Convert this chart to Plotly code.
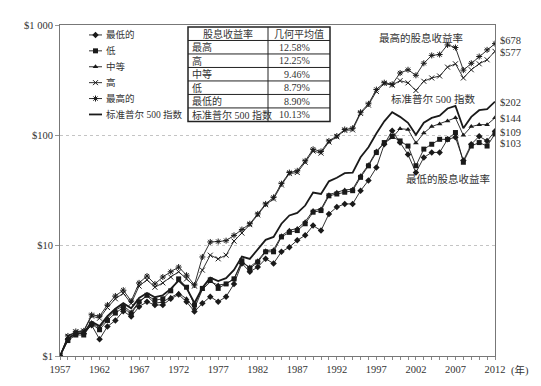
import plotly.graph_objects as go

# ---------------- data ----------------
years = list(range(1957, 2013))

sp500 = [1, 1.43, 1.61, 1.61, 2.05, 1.87, 2.30, 2.68, 3.01, 2.71,
         3.36, 3.73, 3.41, 3.55, 4.06, 4.83, 4.12, 3.03, 4.15, 5.14,
         4.77, 5.08, 6.02, 7.97, 7.58, 9.20, 11.3, 12.0, 15.8, 18.8,
         19.8, 23.1, 30.3, 29.4, 38.3, 41.3, 45.4, 46.0, 63.3, 77.9,
         104, 134, 162, 147, 130, 101, 130, 144, 151, 175,
         185, 116, 147, 169, 173, 202]

highest = [1, 1.52, 1.67, 1.69, 2.36, 2.30, 2.90, 3.50, 3.95, 3.15,
           4.6, 5.3, 4.5, 5.2, 5.8, 6.4, 5.4, 4.4, 7.9, 10.8,
           10.9, 11.1, 12.4, 14.0, 15.8, 19.4, 23.9, 27.4, 36.5, 46,
           47.7, 58.7, 74.8, 71.5, 88.9, 98.6, 113, 116, 162, 193,
           260, 300, 290, 367, 393, 350, 450, 530, 540, 660,
           625, 390, 450, 518, 595, 678]

high = [1, 1.50, 1.65, 1.68, 2.30, 2.20, 2.75, 3.30, 3.70, 3.00,
        4.3, 4.9, 4.2, 4.6, 5.2, 5.8, 5.0, 4.3, 6.0, 8.2,
        7.6, 8.2, 11.0, 13.0, 15.5, 19.0, 23.5, 26.5, 35.5, 45,
        46, 57, 72, 69, 87, 97, 111, 112, 158, 188,
        250, 295, 285, 313, 299, 255, 309, 331, 345, 415,
        445, 331, 393, 445, 484, 577]

medium = [1, 1.45, 1.60, 1.60, 2.00, 1.80, 2.20, 2.60, 2.85, 2.50,
          3.1, 3.5, 3.0, 3.1, 3.4, 3.7, 3.3, 2.7, 4.0, 4.7,
          4.4, 4.5, 5.0, 7.0, 6.4, 7.3, 9.0, 9.2, 12.3, 13.8,
          14.3, 16.5, 20.8, 21.5, 29, 30.5, 32, 32.5, 43, 54,
          72, 85, 95, 115, 113, 85, 105, 120, 127, 135,
          144, 100, 120, 125, 125, 144]

low = [1, 1.38, 1.55, 1.55, 1.95, 1.73, 2.10, 2.45, 2.75, 2.40,
       3.1, 3.55, 3.2, 3.3, 3.9, 5.0, 4.2, 2.9, 4.1, 4.9,
       4.1, 4.5, 5.0, 7.3, 6.2, 7.1, 8.8, 8.8, 12.0, 13.2,
       13.7, 15.8, 20.1, 20.8, 28.3, 29.4, 30.5, 31.5, 41.6, 52.9,
       69.8, 86, 98, 89, 80, 53, 75, 83, 92, 92,
       106, 57, 80, 86, 80, 103]

lowest = [1, 1.42, 1.60, 1.60, 1.90, 1.42, 1.85, 2.10, 2.55, 2.28,
          2.8, 3.1, 2.9, 2.9, 3.3, 3.6, 3.1, 2.53, 3.0, 3.45,
          3.1, 3.45, 4.5, 6.9, 5.8, 6.4, 7.6, 6.9, 8.8, 9.7,
          11.2, 12.4, 15.2, 13.7, 19.4, 22.4, 23.9, 23.9, 31.5, 39,
          51, 83, 110, 86, 67, 46, 63, 70, 70, 92,
          96, 59, 83, 98, 89, 109]

series_names = ["最低的", "低", "中等", "高", "最高的", "标准普尔 500 指数"]
table_header = ["股息收益率", "几何平均值"]
table_rows = ["最高", "高", "中等", "低", "最低的", "标准普尔 500 指数"]
table_vals = ["12.58%", "12.25%", "9.46%", "8.79%", "8.90%", "10.13%"]
end_labels = ["$678", "$577", "$202", "$144", "$109", "$103"]
x_tick_years = list(range(1957, 2013, 5))
y_tick_vals = [1, 10, 100, 1000]
y_tick_text = ["$1", "$10", "$100", "$1 000"]

# ---------------- layout helpers (pixel -> paper) ----------------
W, H = 541, 386
L, R, T, B = 52, 487, 15, 348


def px(x):
    return (x - L) / (R - L)


def py(y):
    return (B - y) / (B - T)


FONT = "Liberation Serif, Noto Sans CJK SC, serif"
INK = "#1a1a1a"
TXT = "#333"

fig = go.Figure()

marker_styles = [
    dict(symbol="diamond", size=5, color=INK),
    dict(symbol="square", size=5, color=INK),
    dict(symbol="triangle-up", size=5, color=INK),
    dict(symbol="x-thin-open", size=5, color=INK, line=dict(width=1, color=INK)),
    dict(symbol="asterisk-open", size=5, color=INK, line=dict(width=1, color=INK)),
]
quintiles = [lowest, low, medium, high, highest]
for vals, mk, name in zip(quintiles, marker_styles, series_names[:5]):
    fig.add_trace(go.Scatter(x=years, y=vals, name=name, mode="lines+markers",
                             line=dict(color=INK, width=0.9), marker=mk, showlegend=False))
fig.add_trace(go.Scatter(x=years, y=sp500, name=series_names[5], mode="lines",
                         line=dict(color=INK, width=1.8), showlegend=False))

# ---------------- legend (drawn on a pixel-unit overlay axis) ----------------
leg_x0, leg_x1, leg_text_x = 81, 94, 96
leg_y = [25, 41, 57, 73, 89, 105]
for i, name in enumerate(series_names):
    if i < 5:
        fig.add_trace(go.Scatter(x=[leg_x0, (leg_x0 + leg_x1) / 2, leg_x1],
                                 y=[leg_y[i]] * 3, mode="lines",
                                 line=dict(color=INK, width=0.9), xaxis="x2", yaxis="y2",
                                 showlegend=False, hoverinfo="skip"))
        fig.add_trace(go.Scatter(x=[(leg_x0 + leg_x1) / 2], y=[leg_y[i]], mode="markers",
                                 marker=marker_styles[i], xaxis="x2", yaxis="y2",
                                 showlegend=False, hoverinfo="skip"))
    else:
        fig.add_trace(go.Scatter(x=[leg_x0, leg_x1], y=[leg_y[i]] * 2, mode="lines",
                                 line=dict(color=INK, width=1.8), xaxis="x2", yaxis="y2",
                                 showlegend=False, hoverinfo="skip"))

tickvals = years
ticktext = [str(y) if y in x_tick_years else "" for y in years]

fig.update_layout(
    width=W, height=H,
    margin=dict(l=L, r=W - R, t=T, b=H - B),
    paper_bgcolor="white", plot_bgcolor="white",
    font=dict(family=FONT, size=10.5, color=TXT),
    showlegend=False,
    xaxis=dict(range=[1957, 2012], tickmode="array", tickvals=tickvals, ticktext=ticktext,
               ticks="outside", ticklen=3, tickcolor="#888", showgrid=False,
               showline=True, linecolor="#777", linewidth=1, mirror=True,
               tickfont=dict(size=10.5, color=TXT), zeroline=False),
    yaxis=dict(type="log", range=[0, 3], tickmode="array", tickvals=y_tick_vals,
               ticktext=y_tick_text, ticks="outside", ticklen=4, tickcolor="#999",
               showgrid=True, gridcolor="#c4c4c4", griddash="dot", gridwidth=1,
               showline=True, linecolor="#777", linewidth=1, mirror=True,
               tickfont=dict(size=10.5, color=TXT), zeroline=False),
    xaxis2=dict(range=[L, R], overlaying="x", visible=False, fixedrange=True),
    yaxis2=dict(range=[B, T], overlaying="y", visible=False, fixedrange=True),
)

# ---------------- table ----------------
tx0, tx1, tx2 = 180, 260, 322
ty0, ty1 = 17, 112
nrows = 7
rh = (ty1 - ty0) / nrows
shapes = []
shapes.append(dict(type="rect", xref="paper", yref="paper", x0=px(tx0), x1=px(tx2),
                   y0=py(ty1), y1=py(ty0), line=dict(color="#222", width=1.5),
                   fillcolor="white", layer="above"))
shapes.append(dict(type="line", xref="paper", yref="paper", x0=px(tx1), x1=px(tx1),
                   y0=py(ty1), y1=py(ty0), line=dict(color="#222", width=1), layer="above"))
for i in range(1, nrows):
    yy = ty0 + i * rh
    shapes.append(dict(type="line", xref="paper", yref="paper", x0=px(tx0), x1=px(tx2),
                       y0=py(yy), y1=py(yy), line=dict(color="#222", width=1), layer="above"))
fig.update_layout(shapes=shapes)

TF = dict(size=10, color=TXT)
ann = []
ann.append(dict(x=px((tx0 + tx1) / 2), y=py(ty0 + rh / 2), text=table_header[0],
                xanchor="center", font=TF))
ann.append(dict(x=px((tx1 + tx2) / 2), y=py(ty0 + rh / 2), text=table_header[1],
                xanchor="center", font=TF))
for i, (r, v) in enumerate(zip(table_rows, table_vals)):
    yc = ty0 + (i + 1.5) * rh
    ann.append(dict(x=px(tx0 + 1.5), y=py(yc), text=r, xanchor="left", font=TF))
    ann.append(dict(x=px(304), y=py(yc), text=v, xanchor="right", font=TF))

# legend texts
LF = dict(size=9.5, color=TXT)
for name, yy in zip(series_names, leg_y):
    ann.append(dict(x=px(leg_text_x), y=py(yy), text=name, xanchor="left", font=LF))

# end labels
AF = dict(size=10.5, color=TXT)
end_y = [31, 43, 93, 109, 123, 134]
for t, yy in zip(end_labels, end_y):
    ann.append(dict(x=px(490), y=py(yy), text=t, xanchor="left", font=AF))

# series annotations
ann.append(dict(x=px(413), y=py(28), text="最高的股息收益率", xanchor="center", font=AF))
ann.append(dict(x=px(425), y=py(89), text="标准普尔 500 指数", xanchor="center", font=AF))
ann.append(dict(x=px(440), y=py(170), text="最低的股息收益率", xanchor="center", font=AF))
ann.append(dict(x=px(501), y=py(363), text="(年)", xanchor="left", font=AF))

for a in ann:
    a.update(xref="paper", yref="paper", showarrow=False, yanchor="middle")

fig.update_layout(annotations=ann)

fig.write_html("out.html")
